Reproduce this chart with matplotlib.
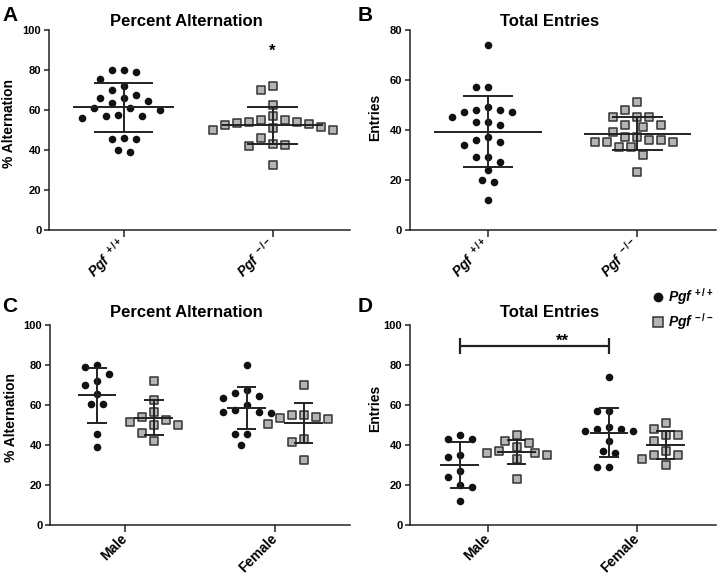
import numpy as np
import matplotlib.pyplot as plt
from matplotlib.lines import Line2D

plt.rcParams['font.family'] = ['Liberation Sans', 'DejaVu Sans']
plt.rcParams['font.weight'] = 'bold'
plt.rcParams['mathtext.fontset'] = 'custom'
plt.rcParams['mathtext.rm'] = 'Liberation Sans:bold'
plt.rcParams['mathtext.it'] = 'Liberation Sans:bold:italic'
plt.rcParams['mathtext.bf'] = 'Liberation Sans:bold'

# --- data ---
# percent alternation, split by sex
alt_male_wt = [80, 79, 75.7, 72.2, 70.2, 65.7, 60.7, 60.7, 45.7, 38.8]
alt_female_wt = [80, 67.5, 65.8, 64.5, 63.3, 60, 57.5, 56.7, 56.7, 55.8, 45.5, 45.5, 40]
alt_male_ko = [72.2, 62.5, 56.7, 54.0, 52.5, 51.6, 50, 50, 45.8, 42.2]
alt_female_ko = [70.2, 54.8, 54.8, 54.0, 53.5, 52.8, 50.7, 43.0, 41.7, 32.5]

# total entries, split by sex
ent_male_wt = [45, 43, 43, 35, 34, 27, 24, 20, 19, 12]
ent_female_wt = [74, 57, 57, 49, 48, 48, 47, 47, 42, 37, 36, 29, 29]
ent_male_ko = [45, 42, 41, 39, 37, 36, 36, 35, 33, 23]
ent_female_ko = [51, 48, 45, 45, 42, 37, 35, 35, 33, 30]

genotypes = [r'$Pgf^{\ +/+}$', r'$Pgf^{\ -/-}$']
legend_labels = [r'$Pgf^{\,+/+}$', r'$Pgf^{\,-/-}$']
sexes = ['Male', 'Female']

INK = '#222222'
GREY = '#b4b4b4'

fig = plt.figure(figsize=(7.17, 5.81), dpi=100)


def add_axes(l, t, r, b):
    W, H = 717.0, 581.0
    return fig.add_axes([l / W, 1 - b / H, (r - l) / W, (b - t) / H])


def style(ax, ymax, title, ylabel, ylab_pos, pad):
    ax.set_ylim(0, ymax)
    ax.set_yticks(np.arange(0, ymax + 1, 20))
    for s in ['top', 'right']:
        ax.spines[s].set_visible(False)
    for s in ['left', 'bottom']:
        ax.spines[s].set_linewidth(1.1)
        ax.spines[s].set_color(INK)
    ax.tick_params(axis='y', length=3.5, width=1.1, color=INK, labelsize=8, pad=2)
    ax.tick_params(axis='x', length=5, width=1.1, color=INK, labelsize=10, pad=3)
    ax.set_title(title, fontsize=12, fontweight='bold', x=0.455, pad=pad)
    ax.set_ylabel(ylabel, fontsize=10, fontweight='bold')
    ax.yaxis.set_label_coords(*ylab_pos)


def swarm(ax, xc, values, step=6.0, mind=11.5):
    # greedy beeswarm in pixel space
    vals = np.asarray(values, float)
    order = np.argsort(-vals)
    trans = ax.transData
    inv = trans.inverted()
    cands = [0]
    for j in range(1, 30):
        cands += [-j, j]
    placed = []
    xs = np.zeros(len(vals))
    for i in order:
        px, py = trans.transform((xc, vals[i]))
        for c in cands:
            x = px + c * step
            if all((x - qx) ** 2 + (py - qy) ** 2 >= mind ** 2 for qx, qy in placed):
                break
        placed.append((x, py))
        xs[i] = inv.transform((x, py))[0]
    return xs


def meansd(ax, xc, values, hm, hc):
    m = np.mean(values)
    s = np.std(values, ddof=1)
    kw = dict(color=INK, lw=1.4, zorder=5, solid_capstyle='butt')
    ax.plot([xc - hm, xc + hm], [m, m], **kw)
    ax.plot([xc, xc], [m - s, m + s], **kw)
    ax.plot([xc - hc, xc + hc], [m - s, m - s], **kw)
    ax.plot([xc - hc, xc + hc], [m + s, m + s], **kw)


def draw_group(ax, xc, values, wt, hm, hc, step=6.0, mind=11.5):
    xs = swarm(ax, xc, values, step, mind)
    if wt:
        ax.scatter(xs, values, s=30, marker='o', color='#111111', zorder=3,
                   clip_on=False, linewidths=0)
    else:
        ax.scatter(xs, values, s=32, marker='s', facecolor=GREY,
                   edgecolor='#333333', linewidths=1.1, zorder=3, clip_on=False)
    meansd(ax, xc, values, hm, hc)


# ---------------- panel A ----------------
axA = add_axes(49, 30, 350, 229.7)
axA.set_xlim(-0.5, 1.52)
style(axA, 100, 'Percent Alternation', '% Alternation', (-0.108, 0.534), 3)
alt_wt = alt_male_wt + alt_female_wt
alt_ko = alt_male_ko + alt_female_ko
draw_group(axA, 0, alt_wt, True, 0.34, 0.2)
draw_group(axA, 1, alt_ko, False, 0.34, 0.17)
axA.set_xticks([0, 1])
axA.set_xticklabels(genotypes, rotation=45, ha='right', va='center',
                    rotation_mode='anchor')
axA.text(1, 89.5, '*', ha='center', va='center', fontsize=12)

# ---------------- panel B ----------------
axB = add_axes(409.7, 30, 716, 229.7)
axB.set_xlim(-0.524, 1.527)
style(axB, 80, 'Total Entries', 'Entries', (-0.09, 0.564), 3)
ent_wt = ent_male_wt + ent_female_wt
ent_ko = ent_male_ko + ent_female_ko
draw_group(axB, 0, ent_wt, True, 0.36, 0.17)
draw_group(axB, 1, ent_ko, False, 0.36, 0.17)
axB.set_xticks([0, 1])
axB.set_xticklabels(genotypes, rotation=45, ha='right', va='center',
                    rotation_mode='anchor')

# ---------------- panel C ----------------
off = 0.19
axC = add_axes(50, 325, 350, 525)
axC.set_xlim(-0.504, 1.5)
style(axC, 100, 'Percent Alternation', '% Alternation', (-0.108, 0.54), 6)
draw_group(axC, -off, alt_male_wt, True, 0.13, 0.065)
draw_group(axC, off, alt_male_ko, False, 0.13, 0.065)
draw_group(axC, 1 - off, alt_female_wt, True, 0.13, 0.065)
draw_group(axC, 1 + off, alt_female_ko, False, 0.13, 0.065)
axC.set_xticks([0, 1])
axC.set_xticklabels(sexes, rotation=45, ha='right', va='center',
                    rotation_mode='anchor')

# ---------------- panel D ----------------
axD = add_axes(410, 325.3, 716, 525)
axD.set_xlim(-0.524, 1.527)
style(axD, 100, 'Total Entries', 'Entries', (-0.09, 0.585), 6)
draw_group(axD, -off, ent_male_wt, True, 0.13, 0.065)
draw_group(axD, off, ent_male_ko, False, 0.13, 0.065)
draw_group(axD, 1 - off, ent_female_wt, True, 0.13, 0.065)
draw_group(axD, 1 + off, ent_female_ko, False, 0.13, 0.065)
axD.set_xticks([0, 1])
axD.set_xticklabels(sexes, rotation=45, ha='right', va='center',
                    rotation_mode='anchor')
# significance bracket
bl = dict(color=INK, lw=1.6, solid_capstyle='butt')
axD.plot([-off, 1 - off], [89.6, 89.6], **bl)
axD.plot([-off, -off], [85.6, 93.6], **bl)
axD.plot([1 - off, 1 - off], [85.6, 93.6], **bl)
axD.text(0.5, 92, '**', ha='center', va='center', fontsize=12)

# legend
handles = [
    Line2D([], [], marker='o', ls='none', color='#111111', markersize=6),
    Line2D([], [], marker='s', ls='none', markerfacecolor=GREY,
           markeredgecolor='#333333', markeredgewidth=1.1, markersize=6.5),
]
fig.legend(handles, legend_labels, loc='upper left', bbox_to_anchor=(0.91, 0.507),
           frameon=False, fontsize=10, handlelength=0.8, handletextpad=0.35,
           borderpad=0, borderaxespad=0, labelspacing=0.25)

# panel letters
for lbl, x, y in [('A', 2, 6), ('B', 358, 6), ('C', 2, 297), ('D', 358, 297)]:
    fig.text(x / 717, 1 - y / 581, lbl, fontsize=15, fontweight='bold',
             ha='left', va='top')

fig.savefig('out.png', dpi=100)
